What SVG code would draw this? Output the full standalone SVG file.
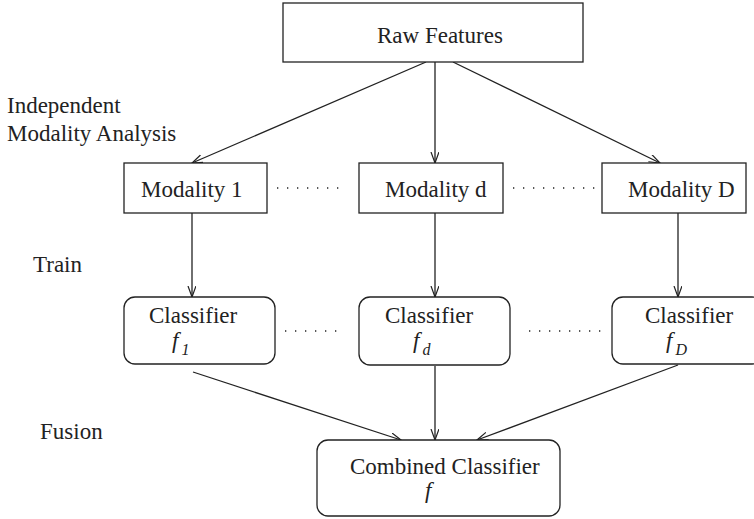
<svg xmlns="http://www.w3.org/2000/svg" width="754" height="519" viewBox="0 0 754 519">
<defs>
<marker id="ah" markerUnits="userSpaceOnUse" markerWidth="14" markerHeight="10" refX="11" refY="4" orient="auto">
<path d="M0,0 L11,4 L0,8" fill="none" stroke="#222" stroke-width="1.2"/>
</marker>
</defs>
<g id="labels" font-family="Liberation Serif" font-size="23" fill="#222">
<text x="7" y="113">Independent</text>
<text x="7" y="141">Modality Analysis</text>
<text x="33" y="272">Train</text>
<text x="40" y="439">Fusion</text>
</g>
<g id="connectors" stroke="#222" stroke-width="1.3" fill="none">
<line x1="426" y1="62" x2="192" y2="163" marker-end="url(#ah)"/>
<line x1="435" y1="62" x2="435" y2="163" marker-end="url(#ah)"/>
<line x1="453" y1="62" x2="660" y2="163" marker-end="url(#ah)"/>
<line x1="192" y1="213" x2="192" y2="297" marker-end="url(#ah)"/>
<line x1="435" y1="213" x2="435" y2="297" marker-end="url(#ah)"/>
<line x1="678" y1="213" x2="678" y2="297" marker-end="url(#ah)"/>
<line x1="193" y1="372" x2="401" y2="440" marker-end="url(#ah)"/>
<line x1="435" y1="366" x2="435" y2="440" marker-end="url(#ah)"/>
<line x1="678" y1="365" x2="477" y2="440" marker-end="url(#ah)"/>
<g stroke-dasharray="1.3 8.7">
<line x1="277" y1="188" x2="340" y2="188"/>
<line x1="513" y1="188" x2="596" y2="188"/>
<line x1="285" y1="331" x2="338" y2="331"/>
<line x1="529" y1="331" x2="602" y2="331"/>
</g>
</g>
<g id="nodes" font-family="Liberation Serif" font-size="23">
<g id="raw">
<rect x="283" y="3" width="300" height="59" fill="#fff" stroke="#222" stroke-width="1.3"/>
<text x="377" y="43" fill="#222">Raw Features</text>
</g>
<g id="mod1">
<rect x="124" y="163" width="143" height="50" fill="#fff" stroke="#222" stroke-width="1.3"/>
<text x="141" y="197" fill="#222">Modality 1</text>
</g>
<g id="modd">
<rect x="359" y="163" width="144" height="50" fill="#fff" stroke="#222" stroke-width="1.3"/>
<text x="385" y="197" fill="#222">Modality d</text>
</g>
<g id="modD">
<rect x="602" y="163" width="144" height="50" fill="#fff" stroke="#222" stroke-width="1.3"/>
<text x="628" y="197" fill="#222">Modality D</text>
</g>
<g id="cls1">
<rect x="124" y="297" width="151" height="67" rx="11" fill="#fff" stroke="#222" stroke-width="1.3"/>
<text x="149" y="323" fill="#222">Classifier</text>
<text x="172" y="348" font-style="italic" fill="#222">f<tspan font-size="16" dx="3" dy="7">1</tspan></text>
</g>
<g id="clsd">
<rect x="359" y="297" width="151" height="68" rx="11" fill="#fff" stroke="#222" stroke-width="1.3"/>
<text x="385" y="323" fill="#222">Classifier</text>
<text x="413" y="348" font-style="italic" fill="#222">f<tspan font-size="16" dx="3" dy="7">d</tspan></text>
</g>
<g id="clsD">
<rect x="612" y="297" width="151" height="67" rx="11" fill="#fff" stroke="#222" stroke-width="1.3"/>
<text x="645" y="323" fill="#222">Classifier</text>
<text x="666" y="348" font-style="italic" fill="#222">f<tspan font-size="16" dx="3" dy="7">D</tspan></text>
</g>
<g id="combined">
<rect x="317" y="440" width="243" height="76" rx="11" fill="#fff" stroke="#222" stroke-width="1.3"/>
<text x="350" y="474" fill="#222">Combined Classifier</text>
<text x="425" y="498" font-style="italic" fill="#222">f</text>
</g>
</g>
</svg>
